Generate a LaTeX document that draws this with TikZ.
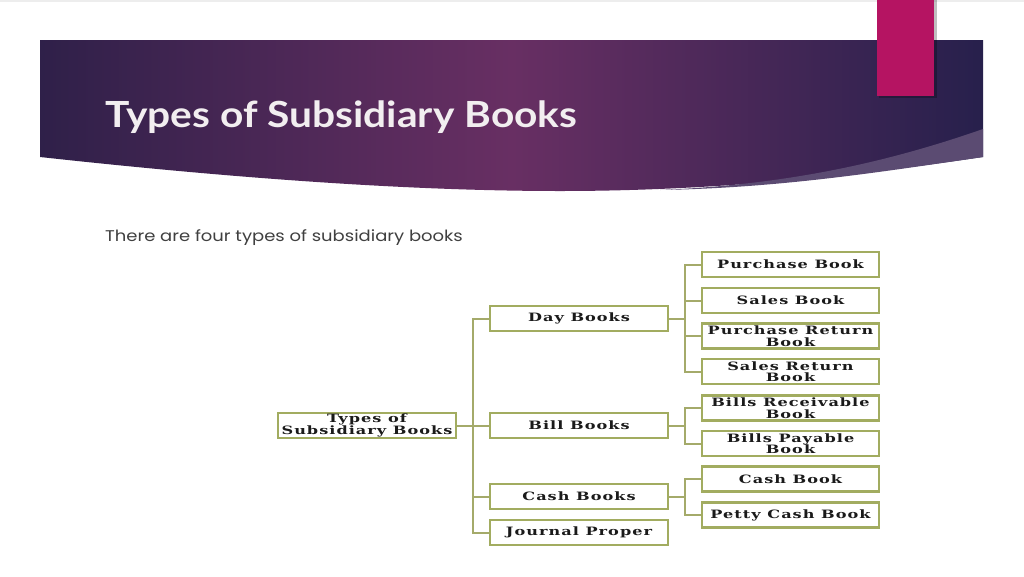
\documentclass[tikz,border=0pt]{standalone}
\usepackage{fontspec}
\setmainfont{Lato}
\newfontfamily\titlefont[FakeStretch=1.13]{Lato}
\newfontfamily\introfont[FakeStretch=1.16]{Poppins}
\newfontfamily\boxfont[FakeStretch=1.4,LetterSpace=9]{DejaVu Serif}
\definecolor{bnleft}{HTML}{2F2049}
\definecolor{bnmid}{HTML}{682F63}
\definecolor{bnright}{HTML}{27204C}
\definecolor{swoosh}{HTML}{5B4B72}
\definecolor{accent}{HTML}{B51462}
\definecolor{titletext}{HTML}{F2EEF0}
\definecolor{bodytext}{HTML}{404040}
\definecolor{boxline}{HTML}{A2AC60}
\definecolor{linkline}{HTML}{A4AA6A}
\definecolor{boxtext}{HTML}{1A1A1A}
\begin{document}
\begin{tikzpicture}[x=1pt,y=-1pt,
    book/.style={draw=boxline, line width=2.4pt, fill=white, minimum width=178pt,
      minimum height=25pt, inner sep=0pt, align=center,
      font=\boxfont\bfseries\fontsize{11.5}{11.5}\selectfont, text=boxtext},
    leaf/.style={book, minimum width=177pt},
    link/.style={draw=linkline, line width=2pt}]
  \useasboundingbox (0,0) rectangle (1024,576);
  \fill[white] (0,0) rectangle (1024,576);
  \fill[black!7] (0,0) rectangle (1024,2);

  \shade[left color=bnleft, right color=bnright, middle color=bnmid]
    (40,40) -- (983,40) -- (983,157)
    .. controls (860,175) and (720,191) .. (560,191)
    .. controls (420,191) and (250,180) .. (40,157) -- cycle;
  \fill[swoosh] (983,129) .. controls (880,165) and (780,185) .. (660,190)
    .. controls (780,188) and (880,172) .. (983,157) -- cycle;
  \fill[black, opacity=0.25] (879,0) rectangle (937,98);
  \fill[accent] (877,0) rectangle (934,96);

  \node[anchor=base west, inner sep=0pt, text=titletext,
    font=\titlefont\bfseries\fontsize{36}{36}\selectfont] (title) at (105,127) {Types of Subsidiary Books};
  \node[anchor=base west, inner sep=0pt, text=bodytext,
    font=\introfont\fontsize{15.5}{16}\selectfont] (intro) at (105,241) {There are four types of subsidiary books};

  \node[book] (root) at (367,425.5) {Types of\\Subsidiary Books};
  \node[book] (day) at (579,318.5) {Day Books};
  \node[book] (bill) at (579,425.5) {Bill Books};
  \node[book] (cash) at (579,496.5) {Cash Books};
  \node[book] (jp) at (579,532.5) {Journal Proper};

  \node[leaf] (pb) at (790.5,264.5) {Purchase Book};
  \node[leaf] (sb) at (790.5,300.5) {Sales Book};
  \node[leaf] (prb) at (790.5,336) {Purchase Return\\Book};
  \node[leaf] (srb) at (790.5,371.5) {Sales Return\\Book};
  \node[leaf] (brb) at (790.5,408) {Bills Receivable\\Book};
  \node[leaf] (bpb) at (790.5,443.5) {Bills Payable\\Book};
  \node[leaf] (cb) at (790.5,479) {Cash Book};
  \node[leaf] (pcb) at (790.5,515) {Petty Cash Book};

  \foreach \n in {day,bill,cash,jp}
    \draw[link] (root.east) -- ++(16,0) |- (\n.west);
  \foreach \n in {pb,sb,prb,srb}
    \draw[link] (day.east) -- ++(16,0) |- (\n.west);
  \foreach \n in {brb,bpb}
    \draw[link] (bill.east) -- ++(16,0) |- (\n.west);
  \foreach \n in {cb,pcb}
    \draw[link] (cash.east) -- ++(16,0) |- (\n.west);
\end{tikzpicture}
\end{document}
